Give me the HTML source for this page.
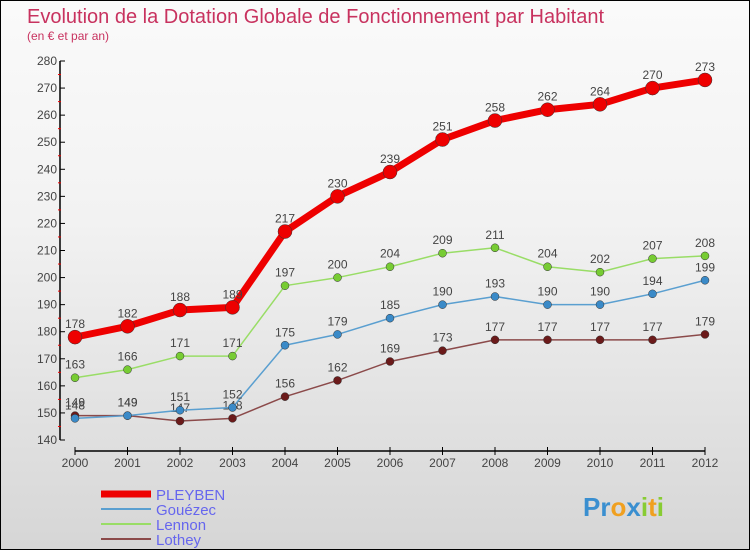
<!DOCTYPE html>
<html><head><meta charset="utf-8"><style>
body{margin:0}
#c{width:748px;height:548px;border:1px solid #000;position:relative;background:linear-gradient(#fafafa,#f2f2f2 40%,#d6d6d6);font-family:"Liberation Sans",sans-serif;overflow:hidden}
</style></head><body>
<div id="c">
<svg id="s" width="748" height="548" xmlns="http://www.w3.org/2000/svg">
<text x="26" y="22" font-size="20" fill="#c8325f">Evolution de la Dotation Globale de Fonctionnement par Habitant</text>
<text x="26" y="39" font-size="12" fill="#c8325f">(en € et par an)</text>
<g id="g"></g>
</svg></div>
<script>
const years=[2000,2001,2002,2003,2004,2005,2006,2007,2008,2009,2010,2011,2012];
const pleyben=[178,182,188,189,217,230,239,251,258,262,264,270,273];
const gouezec=[148,149,151,152,175,179,185,190,193,190,190,194,199];
const lennon=[163,166,171,171,197,200,204,209,211,204,202,207,208];
const lothey=[149,149,147,148,156,162,169,173,177,177,177,177,179];
const yTicks=[140,150,160,170,180,190,200,210,220,230,240,250,260,270,280];
const NS="http://www.w3.org/2000/svg";
const g=document.getElementById('g');
const X=i=>74+i*(704-74)/12;
const Y=v=>439-(v-140)*(439-60)/140;
function mk(t,a,p){const e=document.createElementNS(NS,t);for(const k in a)e.setAttribute(k,a[k]);(p||g).appendChild(e);return e;}
let ax=mk('line',{x1:59,y1:Y(280),x2:59,y2:Y(140),stroke:'#000','stroke-width':1.5});


yTicks.forEach(v=>{
 let t=mk('line',{x1:59,y1:Y(v),x2:64,y2:Y(v),stroke:'#000'});
 
 
 if(v<280){let m=mk('line',{x1:57,y1:Y(v+5),x2:60,y2:Y(v+5),stroke:'#e00'});
 
 }
 let l=mk('text',{x:56,y:Y(v)+4,'text-anchor':'end','font-size':12,fill:'#444'});l.textContent=v;
 
 
});
let xa=mk('line',{x1:X(0),y1:450,x2:X(12),y2:450,stroke:'#000','stroke-width':1.5});


years.forEach((yr,i)=>{
 let t=mk('line',{x1:X(i),y1:446,x2:X(i),y2:454,stroke:'#000'});
 
 
 let l=mk('text',{x:X(i),y:466,'text-anchor':'middle','font-size':12,fill:'#444'});l.textContent=yr;
 
 
});
function series(vals,col,dot,w,r,name){
 let p=mk('polyline',{points:vals.map((v,i)=>X(i)+','+Y(v)).join(' '),fill:'none',stroke:col,'stroke-width':w,'stroke-linejoin':'round'});
 
 
 vals.forEach((v,i)=>{
  let c=mk('circle',{cx:X(i),cy:Y(v),r:r,fill:dot,stroke:'#333','stroke-width':0.5});
  
  
  let l=mk('text',{x:X(i),y:Y(v)-9,'text-anchor':'middle','font-size':12,fill:'#444'});l.textContent=v;
  
  
 });
}
series(lothey,'#8b4a4a','#6b1a1a',1.5,4,'lothey');
series(gouezec,'#5a9fd0','#3a8ac8',1.5,4,'gouezec');
series(lennon,'#99dd66','#77cc33',1.5,4,'lennon');
series(pleyben,'#ee0000','#ee0000',7,7,'pleyben');
const leg=[['PLEYBEN','#ee0000',7],['Gouézec','#5a9fd0',2],['Lennon','#99dd66',2],['Lothey','#8b4a4a',2]];
leg.forEach((e,i)=>{
 let y=493+i*15;
 let l=mk('line',{x1:100,y1:y,x2:150,y2:y,stroke:e[1],'stroke-width':e[2]});
 
 
 let t=mk('text',{x:155,y:y+6,'font-size':15,fill:'#6666ee'});t.textContent=e[0];
 
 
});
let pr=mk('text',{x:582,y:515,'font-size':26,'font-weight':'bold',fill:'#3388cc'});


pr.innerHTML='<tspan fill="#3a8fd0">Pr</tspan><tspan fill="#f0a020">o</tspan><tspan fill="#3a8fd0">x</tspan><tspan fill="#88cc33">i</tspan><tspan fill="#f0a020">t</tspan><tspan fill="#88cc33">i</tspan>';
</script>
</body></html>
